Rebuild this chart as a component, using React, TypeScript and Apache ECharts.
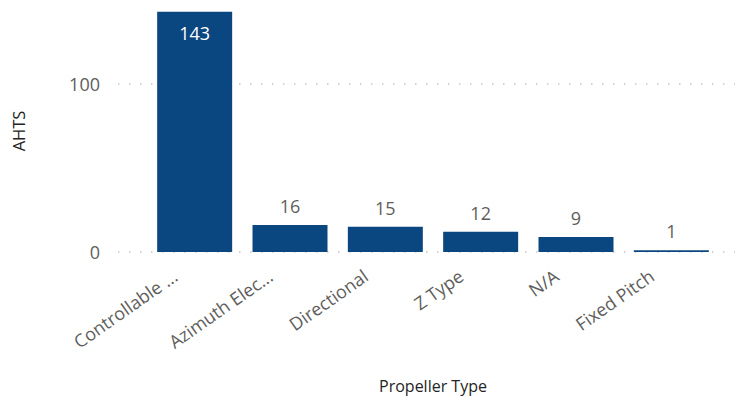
import React, { useEffect, useRef } from "react";
import * as echarts from "echarts";

const categories = ["Controllable ...", "Azimuth Elec...", "Directional", "Z Type", "N/A", "Fixed Pitch"];
const values = [143, 16, 15, 12, 9, 1];
const yTicks = [0, 100];

const FONT = "'Open Sans', 'Noto Sans', sans-serif";
const BAR = "#0A4680";

export default function App() {
  const ref = useRef<HTMLDivElement>(null);
  useEffect(() => {
    if (!ref.current) return;
    const chart = echarts.init(ref.current, undefined, { renderer: "svg" });
    const yMax = 144;
    chart.setOption({
      animation: false,
      textStyle: { fontFamily: FONT },
      grid: [
        { left: 118, right: 7, top: 10, bottom: 148, outerBoundsMode: "none", containLabel: false },
        { left: 147, right: 23, top: 10, bottom: 148, outerBoundsMode: "none", containLabel: false },
      ],
      xAxis: [
        { gridIndex: 0, type: "value", show: false, min: 0, max: 1 },
        {
          gridIndex: 1,
          type: "category",
          data: categories,
          axisLine: { show: false },
          axisTick: { show: false },
          axisLabel: {
            rotate: 35,
            color: "#605E5C",
            fontSize: 18,
            margin: 8,
            padding: [0, 24, 0, 0],
            fontFamily: FONT,
            interval: 0,
          },
          name: "Propeller Type",
          nameLocation: "middle",
          nameGap: 126,
          nameTextStyle: { color: "#252423", fontSize: 16, fontFamily: FONT },
        },
      ],
      yAxis: [
        {
          gridIndex: 0,
          type: "value",
          min: 0,
          max: yMax,
          interval: 100,
          axisLine: { show: false },
          axisTick: { show: false },
          axisLabel: {
            color: "#605E5C",
            fontSize: 18,
            margin: 18,
            fontFamily: FONT,
            showMaxLabel: false,
            formatter: (v: number) => (yTicks.includes(v) ? String(v) : ""),
          },
          splitLine: {
            show: true,
            showMaxLine: false,
            lineStyle: { color: "#C8C6C4", width: 1.5, type: [1.5, 9.5] },
          },
          name: "AHTS",
          nameLocation: "middle",
          nameGap: 91,
          nameTextStyle: { color: "#252423", fontSize: 16.5, fontFamily: FONT },
        },
        { gridIndex: 1, type: "value", min: 0, max: yMax, show: false, splitLine: { show: false } },
      ],
      series: [
        {
          type: "bar",
          xAxisIndex: 1,
          yAxisIndex: 1,
          barWidth: 75,
          data: values.map((v, i) =>
            i === 0
              ? { value: v, label: { position: "insideTop", distance: 12, color: "#FFFFFF" } }
              : v
          ),
          itemStyle: { color: BAR },
          label: {
            show: true,
            position: "top",
            distance: 10,
            color: "#605E5C",
            fontSize: 18,
            fontFamily: FONT,
          },
        },
      ],
    });
    return () => chart.dispose();
  }, []);
  return <div ref={ref} style={{ position: "absolute", left: 0, top: 0, width: 742, height: 400 }} />;
}
